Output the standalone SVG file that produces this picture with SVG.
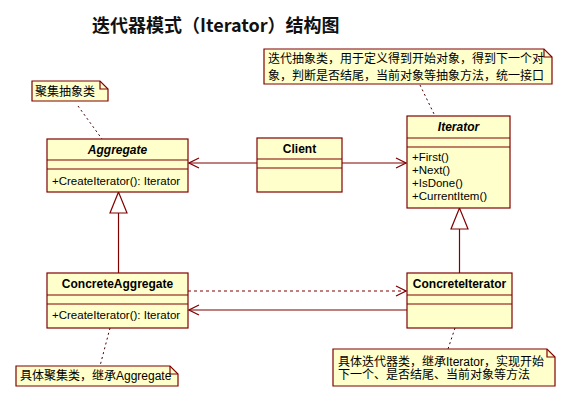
<svg xmlns="http://www.w3.org/2000/svg" width="571" height="407" viewBox="0 0 571 407">
<style>
.cls{fill:#ffffcc;stroke:#800000;stroke-width:1.2}
.sep{stroke:#800000;stroke-width:1.2}
.name{font-family:"Liberation Sans",Arial,sans-serif;font-size:12px;font-weight:bold;fill:#000;text-anchor:middle}
.abs{font-style:italic}
.op{font-family:"Liberation Sans",Arial,sans-serif;font-size:11.5px;fill:#000}
.note{fill:#ffffcc;stroke:#800000;stroke-width:1.2}
.nt{font-family:"Liberation Sans","Noto Sans CJK SC",sans-serif;font-size:12px;fill:#000}
.ln{stroke:#800000;stroke-width:1.2;fill:none}
.dash{stroke:#800000;stroke-width:1.2;fill:none;stroke-dasharray:3,3}
.anchor{stroke:#400000;stroke-width:1;fill:none;stroke-dasharray:2,3}
.title{font-family:"Noto Sans CJK SC","Liberation Sans",sans-serif;font-size:18px;font-weight:bold;fill:#111}
</style>
<defs>
<marker id="open" markerWidth="12" markerHeight="12" refX="11" refY="6" orient="auto" markerUnits="userSpaceOnUse">
<path d="M1,1 L11,6 L1,11" fill="none" stroke="#800000" stroke-width="1.2"/>
</marker>
</defs>
<rect width="571" height="407" fill="#ffffff"/>
<text class="title" x="92" y="32">迭代器模式（Iterator）结构图</text>

<g id="connectors">
<line class="ln" x1="257" y1="163" x2="189" y2="163" marker-end="url(#open)"/>
<line class="ln" x1="342" y1="163" x2="406" y2="163" marker-end="url(#open)"/>
<line class="dash" x1="188" y1="291" x2="406" y2="291" marker-end="url(#open)"/>
<line class="ln" x1="407" y1="310" x2="189" y2="310" marker-end="url(#open)"/>
<line class="ln" x1="118.5" y1="213" x2="118.5" y2="273"/>
<polygon class="ln" points="118.5,192 110,213 127,213" fill="#ffffff"/>
<line class="ln" x1="459.5" y1="229" x2="459.5" y2="273"/>
<polygon class="ln" points="459.5,208 451,229 468,229" fill="#ffffff"/>
<line class="anchor" x1="78" y1="106" x2="102" y2="139"/>
<line class="anchor" x1="420" y1="85" x2="435" y2="116"/>
<line class="anchor" x1="110" y1="328" x2="100" y2="366"/>
<line class="anchor" x1="455" y1="328" x2="448" y2="349"/>
</g>

<g id="Aggregate">
<rect class="cls" x="47" y="139" width="141" height="53"/>
<line class="sep" x1="47" y1="160" x2="188" y2="160"/>
<line class="sep" x1="47" y1="169" x2="188" y2="169"/>
<text class="name abs" x="117.5" y="154">Aggregate</text>
<text class="op" x="52" y="185">+CreateIterator(): Iterator</text>
</g>

<g id="Client">
<rect class="cls" x="257" y="138" width="85" height="54"/>
<line class="sep" x1="257" y1="159" x2="342" y2="159"/>
<line class="sep" x1="257" y1="168" x2="342" y2="168"/>
<text class="name" x="299.5" y="153">Client</text>
</g>

<g id="Iterator">
<rect class="cls" x="407" y="116" width="103" height="92"/>
<line class="sep" x1="407" y1="138" x2="510" y2="138"/>
<line class="sep" x1="407" y1="147" x2="510" y2="147"/>
<text class="name abs" x="458.5" y="131">Iterator</text>
<text class="op" x="412" y="161">+First()</text>
<text class="op" x="412" y="174">+Next()</text>
<text class="op" x="412" y="187">+IsDone()</text>
<text class="op" x="412" y="200">+CurrentItem()</text>
</g>

<g id="ConcreteAggregate">
<rect class="cls" x="47" y="273" width="141" height="55"/>
<line class="sep" x1="47" y1="295" x2="188" y2="295"/>
<line class="sep" x1="47" y1="304" x2="188" y2="304"/>
<text class="name" x="117.5" y="288">ConcreteAggregate</text>
<text class="op" x="52" y="319">+CreateIterator(): Iterator</text>
</g>

<g id="ConcreteIterator">
<rect class="cls" x="407" y="273" width="105" height="55"/>
<line class="sep" x1="407" y1="295" x2="512" y2="295"/>
<line class="sep" x1="407" y1="304" x2="512" y2="304"/>
<text class="name" x="459.5" y="288">ConcreteIterator</text>
</g>

<g id="note-aggregate">
<path class="note" d="M32,81 H100 L108,89 V101 H32 Z"/>
<path class="ln" d="M100,81 V89 H108"/>
<text class="nt" x="35" y="96">聚集抽象类</text>
</g>

<g id="note-iterator">
<path class="note" d="M264,49 H544 L552,57 V84 H264 Z"/>
<path class="ln" d="M544,49 V57 H552"/>
<text class="nt" x="268" y="63">迭代抽象类，用于定义得到开始对象，得到下一个对</text>
<text class="nt" x="268" y="80">象，判断是否结尾，当前对象等抽象方法，统一接口</text>
</g>

<g id="note-concreteaggregate">
<path class="note" d="M16,366 H170 L178,374 V386 H16 Z"/>
<path class="ln" d="M170,366 V374 H178"/>
<text class="nt" x="20" y="380">具体聚集类，继承Aggregate</text>
</g>

<g id="note-concreteiterator">
<path class="note" d="M333,349 H547 L555,357 V386 H333 Z"/>
<path class="ln" d="M547,349 V357 H555"/>
<text class="nt" x="338" y="366">具体迭代器类，继承Iterator，实现开始</text>
<text class="nt" x="338" y="379">下一个、是否结尾、当前对象等方法</text>
</g>
</svg>
